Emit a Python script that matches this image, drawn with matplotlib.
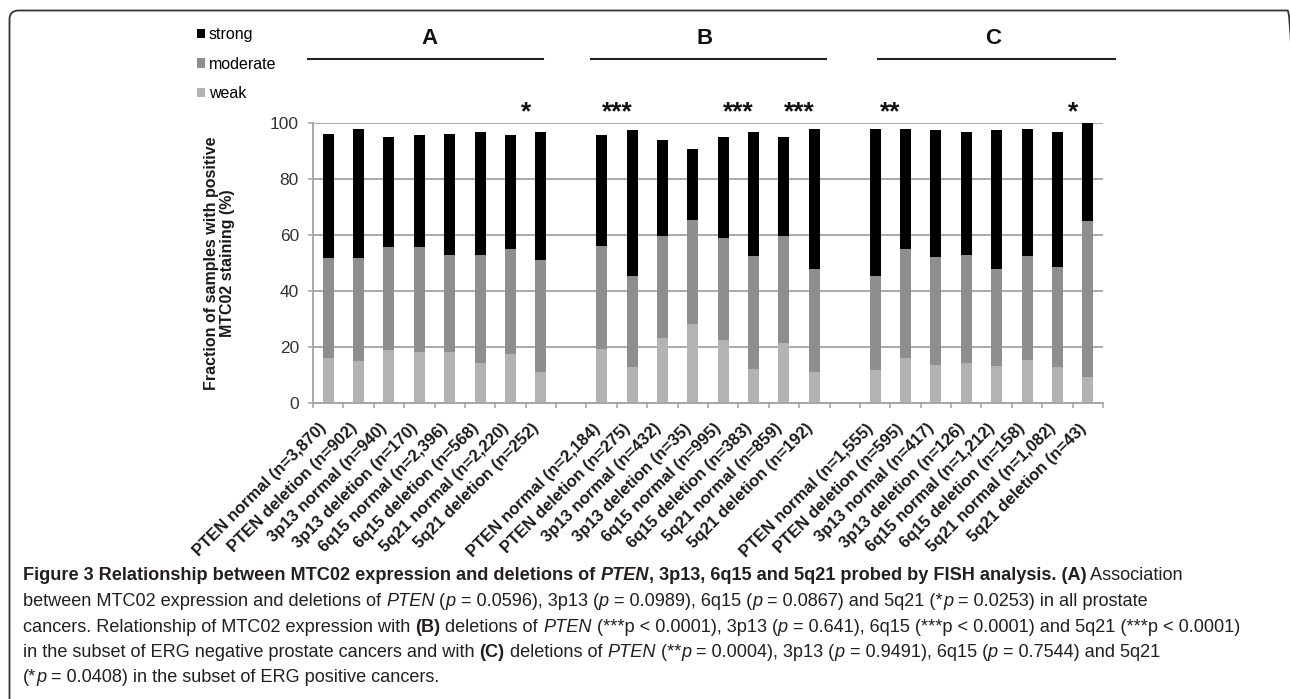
import numpy as np
import matplotlib
matplotlib.use('Agg')
import matplotlib.pyplot as plt
from matplotlib import font_manager
from matplotlib.patches import FancyBboxPatch
from matplotlib.transforms import IdentityTransform, ScaledTranslation

plt.rcParams['font.family'] = ['Liberation Sans', 'DejaVu Sans']

# category labels for the three panels
labels_A = ['PTEN normal (n=3,870)', 'PTEN deletion (n=902)', '3p13 normal (n=940)', '3p13 deletion (n=170)',
            '6q15 normal (n=2,396)', '6q15 deletion (n=568)', '5q21 normal (n=2,220)', '5q21 deletion (n=252)']
labels_B = ['PTEN normal (n=2,184)', 'PTEN deletion (n=275)', '3p13 normal (n=432)', '3p13 deletion (n=35)',
            '6q15 normal (n=995)', '6q15 deletion (n=383)', '5q21 normal (n=859)', '5q21 deletion (n=192)']
labels_C = ['PTEN normal (n=1,555)', 'PTEN deletion (n=595)', '3p13 normal (n=417)', '3p13 deletion (n=126)',
            '6q15 normal (n=1,212)', '6q15 deletion (n=158)', '5q21 normal (n=1,082)', '5q21 deletion (n=43)']

# percent of samples per staining intensity
weak_A = [16.1, 14.9, 19.0, 18.1, 18.1, 14.3, 17.5, 11.0]
moderate_A = [35.7, 36.9, 36.6, 37.5, 34.9, 38.7, 37.5, 40.2]
strong_A = [44.3, 46.2, 39.3, 40.0, 43.1, 43.8, 40.6, 45.6]

weak_B = [19.3, 12.9, 23.2, 28.3, 22.6, 12.1, 21.4, 11.0]
moderate_B = [36.9, 32.6, 36.3, 37.2, 36.3, 40.5, 38.1, 37.0]
strong_B = [39.4, 51.9, 34.5, 25.3, 36.0, 44.2, 35.4, 50.0]

weak_C = [11.7, 16.1, 13.5, 14.3, 13.3, 15.5, 12.9, 9.2]
moderate_C = [33.8, 38.9, 38.5, 38.7, 34.7, 37.1, 35.7, 55.7]
strong_C = [52.5, 43.0, 45.4, 43.8, 49.4, 45.4, 48.2, 35.1]

group_names = ['A', 'B', 'C']
# significance marks: (group, pair index, text)
stars = [(0, 3, '*'), (1, 0, '***'), (1, 2, '***'), (1, 3, '***'), (2, 0, '**'), (2, 3, '*')]

W, H = 1290, 699
fig = plt.figure(figsize=(W / 100, H / 100), dpi=100)
ax = fig.add_axes([313 / W, 1 - 403 / H, 790 / W, 280 / H])

gray = '#a3a3a3'
c_weak, c_mod, c_strong = '#b3b3b3', '#8e8e8e', '#000000'

x_all, lab_all, wk_all, md_all, st_all = [], [], [], [], []
for g, (lab, wk, md, st) in enumerate([(labels_A, weak_A, moderate_A, strong_A),
                                       (labels_B, weak_B, moderate_B, strong_B),
                                       (labels_C, weak_C, moderate_C, strong_C)]):
    x_all += list(np.arange(8) + 9 * g)
    lab_all += lab
    wk_all += wk
    md_all += md
    st_all += st
x_all = np.array(x_all)
wk_all, md_all, st_all = np.array(wk_all), np.array(md_all), np.array(st_all)

bw = 0.36
b_weak = ax.bar(x_all, wk_all, bw, color=c_weak, label='weak')
b_mod = ax.bar(x_all, md_all, bw, bottom=wk_all, color=c_mod, label='moderate')
b_strong = ax.bar(x_all, st_all, bw, bottom=wk_all + md_all, color=c_strong, label='strong')

ax.set_xlim(-0.5, 25.5)
ax.set_ylim(0, 100)
ax.set_yticks(range(0, 101, 20))
ax.yaxis.grid(True, color=gray, lw=1.3)
ax.set_axisbelow(True)
for s in ['top', 'right']:
    ax.spines[s].set_visible(False)
for s in ['left', 'bottom']:
    ax.spines[s].set_color(gray)
    ax.spines[s].set_linewidth(1.3)

ax.tick_params(axis='y', length=3.6, width=1.1, color=gray, pad=6.5, labelsize=12.5, labelcolor='#333333')
ax.set_xticks(x_all)
ax.set_xticks(np.arange(-0.5, 26, 1), minor=True)
ax.tick_params(axis='x', which='major', length=0, pad=16.5)
ax.tick_params(axis='x', which='minor', length=3.6, width=1.1, color=gray)
ax.set_xticklabels(lab_all, rotation=45, ha='right', va='center', rotation_mode='anchor',
                   fontsize=12, fontweight='bold', color='#1a1a1a')
shift = ScaledTranslation(-4 / 100, 0, fig.dpi_scale_trans)
for t in ax.get_xticklabels():
    t.set_transform(t.get_transform() + shift)

ax.set_ylabel('Fraction of samples with positive\nMTC02 staining (%)', fontsize=11.5,
              fontweight='bold', linespacing=1.05, color='#1a1a1a')
ax.yaxis.set_label_coords((235 - 313) / 790, 0.5)

# legend at top left
ax.legend(handles=[b_strong, b_mod, b_weak], loc='upper left', bbox_to_anchor=(197 / W, 1 - 27 / H),
          bbox_transform=fig.transFigure, frameon=False, fontsize=11.5, handlelength=0.5,
          handleheight=0.5, handletextpad=0.25, labelspacing=0.92, borderpad=0, borderaxespad=0)

# panel headers, bars and stars (data coords, y above 100)
line_x = [(-0.66, 7.07), (8.65, 16.39), (18.1, 25.9)]
label_x = [3.35, 12.4, 21.9]
for g in range(3):
    ax.plot(line_x[g], [123.0, 123.0], color='#222222', lw=1.5, clip_on=False)
    ax.text(label_x[g], 128.2, group_names[g], ha='center', va='baseline', fontsize=16,
            fontweight='bold', color='#111111', clip_on=False)
for g, p, s in stars:
    ax.text(9 * g + 2 * p + 0.5, 101.2, s, ha='center', va='baseline', fontsize=19,
            fontweight='bold', color='#111111', clip_on=False)

# rounded frame around the figure
frame = FancyBboxPatch((9.5, -30), 1287, 689 + 30 - 0.5, boxstyle='round,pad=0,rounding_size=9',
                       transform=IdentityTransform(), fill=False, ec='#333333', lw=1.3)
fig.patches.append(frame)

# caption with mixed styles
styles = {'r': ('normal', 'normal'), 'b': ('bold', 'normal'), 'i': ('normal', 'italic'), 'bi': ('bold', 'italic')}
caption = [
    [('Figure 3 Relationship between MTC02 expression and deletions of ', 'b'), ('PTEN', 'bi'),
     (', 3p13, 6q15 and 5q21 probed by FISH analysis. (A)', 'b'), (' Association', 'r')],
    [('between MTC02 expression and deletions of ', 'r'), ('PTEN', 'i'), (' (', 'r'), ('p', 'i'),
     (' = 0.0596), 3p13 (', 'r'), ('p', 'i'), (' = 0.0989), 6q15 (', 'r'), ('p', 'i'),
     (' = 0.0867) and 5q21 (*', 'r'), ('p', 'i'), (' = 0.0253) in all prostate', 'r')],
    [('cancers. Relationship of MTC02 expression with ', 'r'), ('(B)', 'b'), (' deletions of ', 'r'),
     ('PTEN', 'i'), (' (***p < 0.0001), 3p13 (', 'r'), ('p', 'i'),
     (' = 0.641), 6q15 (***p < 0.0001) and 5q21 (***p < 0.0001)', 'r')],
    [('in the subset of ERG negative prostate cancers and with ', 'r'), ('(C)', 'b'), (' deletions of ', 'r'),
     ('PTEN', 'i'), (' (**', 'r'), ('p', 'i'), (' = 0.0004), 3p13 (', 'r'), ('p', 'i'),
     (' = 0.9491), 6q15 (', 'r'), ('p', 'i'), (' = 0.7544) and 5q21', 'r')],
    [('(*', 'r'), ('p', 'i'), (' = 0.0408) in the subset of ERG positive cancers.', 'r')],
]
baselines = [580.5, 606, 631.5, 657, 682.5]
renderer = fig.canvas.get_renderer()


def seg_width(s, size, st, fam):
    wt, sl = styles[st]
    kw = dict(fontsize=size, family=fam, weight=wt, style=sl)
    t1 = fig.text(0, 0, '|' + s + '|', **kw)
    t2 = fig.text(0, 0, '||', **kw)
    w = t1.get_window_extent(renderer).width - t2.get_window_extent(renderer).width
    t1.remove()
    t2.remove()
    return w


def line_width(line, size, fam):
    return sum(seg_width(s, size, st, fam) for s, st in line)


# pick the installed family whose bold/regular proportions best match the printed caption
names = {f.name for f in font_manager.fontManager.ttflist}
target1, target3 = 1277 - 23, 1245 - 23
best = None
for cand in ['Lato', 'Roboto', 'Liberation Sans', 'Noto Sans', 'Open Sans']:
    if cand not in names:
        continue
    fam = [cand, 'DejaVu Sans']
    w1, w3 = line_width(caption[0], 10, fam), line_width(caption[2], 10, fam)
    size = 10 * min(target1 / w1, target3 / w3)
    err = abs(w1 / w3 - target1 / target3)
    if best is None or err < best[0]:
        best = (err, fam, size)
_, cap_family, cap_size = best

for line, yb in zip(caption, baselines):
    x = 23
    for s, st in line:
        wt, sl = styles[st]
        fig.text(x / W, 1 - yb / H, s, fontsize=cap_size, family=cap_family, weight=wt, style=sl,
                 ha='left', va='baseline', color='#231f20')
        x += seg_width(s, cap_size, st, cap_family)

fig.savefig('out.png', dpi=100)
